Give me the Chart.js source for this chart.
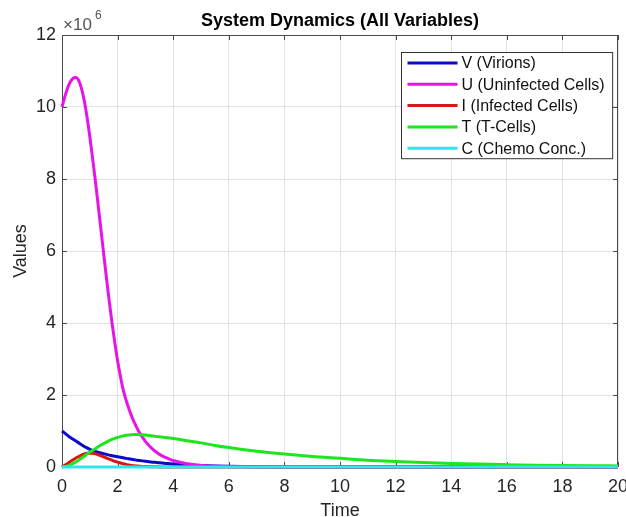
<!DOCTYPE html>
<html>
<head>
<meta charset="utf-8">
<script src="https://cdn.jsdelivr.net/npm/chart.js@4.4.1/dist/chart.umd.min.js"></script>
<style>
  html, body { margin: 0; padding: 0; background: #fff; }
  #wrap { width: 626px; height: 517px; }
</style>
</head>
<body>
<div id="wrap"><canvas id="dynChart" width="626" height="517"></canvas></div>
<script>
// 数据（单位 ×10^6）
const timePoints = [0, 0.1, 0.2, 0.3, 0.4, 0.5, 0.6, 0.7, 0.8, 0.9, 1.0, 1.1, 1.2, 1.3, 1.4, 1.5, 1.6, 1.7, 1.8, 1.9, 2.0, 2.1, 2.2, 2.3, 2.4, 2.5, 2.6, 2.7, 2.8, 2.9, 3.0, 3.2, 3.4, 3.6, 3.8, 4.0, 4.5, 5, 5.5, 6, 7, 8, 9, 10, 11, 12, 13, 14, 15, 16, 17, 18, 19, 20];

const virions = [1.0, 0.94, 0.88, 0.82, 0.77, 0.72, 0.67, 0.62, 0.57, 0.53, 0.49, 0.46, 0.43, 0.41, 0.39, 0.37, 0.35, 0.33, 0.315, 0.3, 0.285, 0.27, 0.255, 0.24, 0.228, 0.215, 0.203, 0.19, 0.18, 0.17, 0.16, 0.14, 0.125, 0.11, 0.095, 0.083, 0.058, 0.04, 0.027, 0.018, 0.008, 0.003, 0.001, 0, 0, 0, 0, 0, 0, 0, 0, 0, 0, 0];

const uninfected = [10.0, 10.28, 10.52, 10.7, 10.8, 10.82, 10.74, 10.52, 10.18, 9.72, 9.18, 8.58, 7.95, 7.28, 6.6, 5.92, 5.25, 4.6, 4.0, 3.45, 2.95, 2.52, 2.15, 1.87, 1.63, 1.42, 1.24, 1.08, 0.94, 0.82, 0.71, 0.54, 0.41, 0.31, 0.24, 0.18, 0.09, 0.045, 0.02, 0.01, 0.002, 0, 0, 0, 0, 0, 0, 0, 0, 0, 0, 0, 0, 0];

const infected = [0, 0.05, 0.1, 0.15, 0.2, 0.25, 0.29, 0.33, 0.36, 0.38, 0.385, 0.38, 0.365, 0.34, 0.31, 0.28, 0.25, 0.22, 0.19, 0.16, 0.135, 0.11, 0.09, 0.072, 0.057, 0.045, 0.035, 0.027, 0.021, 0.016, 0.012, 0.007, 0.004, 0.002, 0.001, 0, 0, 0, 0, 0, 0, 0, 0, 0, 0, 0, 0, 0, 0, 0, 0, 0, 0, 0];

const tCells = [0, 0.01, 0.03, 0.06, 0.1, 0.14, 0.19, 0.245, 0.3, 0.36, 0.41, 0.46, 0.51, 0.56, 0.61, 0.65, 0.69, 0.73, 0.765, 0.795, 0.82, 0.845, 0.865, 0.88, 0.89, 0.897, 0.9, 0.9, 0.897, 0.893, 0.888, 0.87, 0.85, 0.83, 0.81, 0.79, 0.73, 0.67, 0.6, 0.54, 0.44, 0.36, 0.29, 0.24, 0.19, 0.155, 0.125, 0.1, 0.08, 0.065, 0.052, 0.042, 0.035, 0.03];

const chemo = [0, 0, 0, 0, 0, 0, 0, 0, 0, 0, 0, 0, 0, 0, 0, 0, 0, 0, 0, 0, 0, 0, 0, 0, 0, 0, 0, 0, 0, 0, 0, 0, 0, 0, 0, 0, 0, 0, 0, 0, 0, 0, 0, 0, 0, 0, 0, 0, 0, 0, 0, 0, 0, 0];

const seriesLabels = ['V (Virions)', 'U (Uninfected Cells)', 'I (Infected Cells)', 'T (T-Cells)', 'C (Chemo Conc.)'];
const seriesColors = ['#0a0ac8', '#e614e6', '#dc1414', '#1ee61e', '#2de6f0'];
const xTicks = [0, 2, 4, 6, 8, 10, 12, 14, 16, 18, 20];
const yTicks = [0, 2, 4, 6, 8, 10, 12];

const FONT = 'Liberation Sans, Arial, Helvetica, sans-serif';

const toPoints = (values) => values.map((v, i) => ({ x: timePoints[i], y: v }));

// 标题 + ×10^6
const titlePlugin = {
  id: 'matlabTitle',
  afterDraw(chart) {
    const { ctx, chartArea } = chart;
    ctx.save();
    ctx.fillStyle = '#000';
    ctx.font = 'bold 18px ' + FONT;
    ctx.textAlign = 'center';
    ctx.textBaseline = 'middle';
    ctx.fillText('System Dynamics (All Variables)', (chartArea.left + chartArea.right) / 2, 21);

    ctx.fillStyle = '#555';
    ctx.textAlign = 'left';
    ctx.font = '17px ' + FONT;
    ctx.fillText('×10', chartArea.left + 1, 25);
    ctx.font = '12px ' + FONT;
    ctx.fillText('6', chartArea.left + 33, 16);
    ctx.restore();
  }
};

// 坐标框和内向刻度
const framePlugin = {
  id: 'matlabFrame',
  beforeDatasetsDraw(chart) {
    const { ctx, chartArea, scales } = chart;
    const { left, right, top, bottom } = chartArea;
    const len = 5;
    ctx.save();
    ctx.strokeStyle = '#4a4a4a';
    ctx.lineWidth = 1;
    ctx.beginPath();
    ctx.rect(left + 0.5, top + 0.5, right - left - 1, bottom - top - 1);
    for (const v of xTicks) {
      const px = Math.round(scales.x.getPixelForValue(v)) + 0.5;
      ctx.moveTo(px, bottom); ctx.lineTo(px, bottom - len);
      ctx.moveTo(px, top); ctx.lineTo(px, top + len);
    }
    for (const v of yTicks) {
      const py = Math.round(scales.y.getPixelForValue(v)) + 0.5;
      ctx.moveTo(left, py); ctx.lineTo(left + len, py);
      ctx.moveTo(right, py); ctx.lineTo(right - len, py);
    }
    ctx.stroke();
    ctx.restore();
  }
};

// 图内图例
const legendPlugin = {
  id: 'matlabLegend',
  afterDatasetsDraw(chart) {
    const { ctx, chartArea } = chart;
    const sets = chart.data.datasets;
    ctx.save();
    ctx.font = '16px ' + FONT;
    const textW = Math.max(...sets.map(d => ctx.measureText(d.label).width));
    const rowH = 21.3;
    const boxW = 6 + 50 + 4 + textW + 8;
    const boxH = 10 + rowH * (sets.length - 1) + 11;
    const bx = Math.round(chartArea.right - 6 - boxW) + 0.5;
    const by = chartArea.top + 17.5;
    ctx.fillStyle = '#fff';
    ctx.fillRect(bx, by, boxW, boxH);
    ctx.strokeStyle = '#333';
    ctx.lineWidth = 1;
    ctx.strokeRect(bx, by, boxW, boxH);
    ctx.textBaseline = 'middle';
    ctx.textAlign = 'left';
    sets.forEach((d, i) => {
      const y = by + 10.5 + i * rowH;
      ctx.strokeStyle = d.borderColor;
      ctx.lineWidth = 3;
      ctx.beginPath();
      ctx.moveTo(bx + 6, y);
      ctx.lineTo(bx + 56, y);
      ctx.stroke();
      ctx.fillStyle = '#111';
      ctx.fillText(d.label, bx + 60, y + 1);
    });
    ctx.restore();
  }
};

const datasets = [virions, uninfected, infected, tCells, chemo].map((vals, i) => ({
  label: seriesLabels[i],
  data: toPoints(vals),
  borderColor: seriesColors[i],
  backgroundColor: seriesColors[i],
  borderWidth: 3,
  pointRadius: 0,
  fill: false,
  clip: 3,
  cubicInterpolationMode: 'monotone',
  order: 5 - i
}));

new Chart(document.getElementById('dynChart').getContext('2d'), {
  type: 'line',
  data: { datasets },
  options: {
    responsive: false,
    animation: false,
    layout: { padding: { left: 0, right: 8, top: 35, bottom: 0 } },
    plugins: {
      legend: { display: false },
      title: { display: false },
      tooltip: { enabled: false }
    },
    scales: {
      x: {
        type: 'linear',
        min: 0,
        max: 20,
        afterBuildTicks: (scale) => { scale.ticks = xTicks.map(v => ({ value: v })); },
        afterFit: (scale) => { scale.height = 50; scale.paddingLeft = 0; scale.paddingRight = 0; },
        border: { display: false },
        grid: { color: '#e2e2e2', lineWidth: 1, drawTicks: false },
        ticks: { color: '#262626', font: { family: FONT, size: 18 }, padding: 9, maxRotation: 0, autoSkip: false },
        title: { display: true, text: 'Time', color: '#262626', font: { family: FONT, size: 18, lineHeight: 1 }, padding: { top: 0, bottom: -3 } }
      },
      y: {
        type: 'linear',
        min: 0,
        max: 12,
        afterBuildTicks: (scale) => { scale.ticks = yTicks.map(v => ({ value: v })); },
        afterFit: (scale) => { scale.width = 62; scale.paddingTop = 0; scale.paddingBottom = 0; },
        border: { display: false },
        grid: { color: '#e2e2e2', lineWidth: 1, drawTicks: false },
        ticks: { color: '#262626', font: { family: FONT, size: 18 }, padding: 6 },
        title: { display: true, text: 'Values', color: '#262626', font: { family: FONT, size: 18, lineHeight: 1 }, padding: { top: 12, bottom: 0 } }
      }
    }
  },
  plugins: [framePlugin, legendPlugin, titlePlugin]
});
</script>
</body>
</html>
